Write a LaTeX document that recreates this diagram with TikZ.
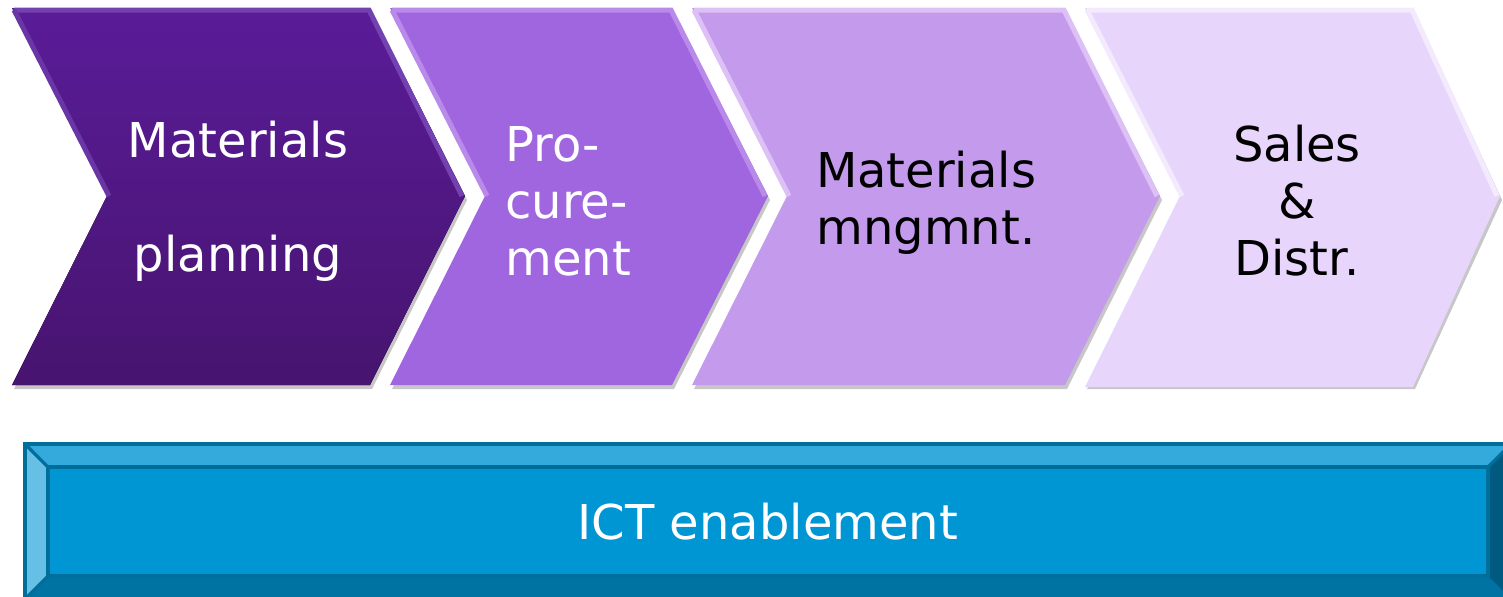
\documentclass[tikz,border=0pt]{standalone}
\usepackage{fontspec}
\setmainfont{DejaVu Sans}
\definecolor{cA}{HTML}{541A8E}
\definecolor{cAt}{HTML}{5A1C98}
\definecolor{cAb}{HTML}{47146F}
\definecolor{cAe}{HTML}{7442B0}
\definecolor{cB}{HTML}{A066DF}
\definecolor{cBe}{HTML}{B98AEA}
\definecolor{cC}{HTML}{C49AED}
\definecolor{cCe}{HTML}{DCC0F6}
\definecolor{cD}{HTML}{E7D5FB}
\definecolor{cDe}{HTML}{F3EAFD}
\definecolor{bMain}{HTML}{0095D3}
\definecolor{bTop}{HTML}{33A9DC}
\definecolor{bLeft}{HTML}{66BFE5}
\definecolor{bBot}{HTML}{0073A2}
\definecolor{bRight}{HTML}{005A80}
\definecolor{bLine}{HTML}{006E9A}
\tikzset{
  chevshadow/.style={fill=black, opacity=0.22},
  chevedge/.style={line width=2.5pt, line join=miter},
  lbl/.style={font=\fontsize{24}{28.5}\selectfont, inner sep=0pt, align=center},
  bevline/.style={draw=bLine, line width=1.6pt, line join=miter}
}
\begin{document}
\begin{tikzpicture}[x=0.5pt,y=-0.5pt]
\useasboundingbox (0,0) rectangle (1503,596);
\clip (0,0) rectangle (1503,596);
% shadows
\foreach \a/\b/\c/\d in {12/370/465/107, 390/672/768/485, 692/1065/1160/787, 1085/1413/1500/1180}{
  \fill[chevshadow] (\a+2,8+4) -- (\b+2,8+4) -- (\c+2,196+4) -- (\b+2,385+4) -- (\a+2,385+4) -- (\d+2,196+4) -- cycle;
}
% chevron 1
\fill[top color=cAt, bottom color=cAb] (12,8) -- (370,8) -- (465,196) -- (370,385) -- (12,385) -- (107,196) -- cycle;
\draw[chevedge, draw=cAe] (14,10) -- (369,10) -- (462,196);
\draw[chevedge, draw=cAe!70!cA] (14,10) -- (109,196);
% chevron 2
\fill[cB] (390,8) -- (672,8) -- (768,196) -- (672,385) -- (390,385) -- (485,196) -- cycle;
\draw[chevedge, draw=cBe] (392,10) -- (671,10) -- (765,196);
\draw[chevedge, draw=cBe] (392,10) -- (487,196);
% chevron 3
\fill[cC] (692,8) -- (1065,8) -- (1160,196) -- (1065,385) -- (692,385) -- (787,196) -- cycle;
\draw[chevedge, draw=cCe] (694,10) -- (1064,10) -- (1157,196);
\draw[chevedge, draw=cCe] (694,10) -- (789,196);
% chevron 4
\fill[cD] (1085,8) -- (1413,8) -- (1500,196) -- (1413,387) -- (1085,387) -- (1180,196) -- cycle;
\draw[chevedge, draw=cDe] (1087,10) -- (1412,10) -- (1497,196);
\draw[chevedge, draw=cDe] (1087,10) -- (1182,196);
% labels
\node[lbl, text=white] (mp) at (238,201) {Materials\\[28.5pt]planning};
\node[lbl, text=white, align=left, anchor=west] (pc) at (505,201) {Pro-\\cure-\\ment};
\node[lbl, text=black] (mm) at (926,203) {Materials\\mngmnt.};
\node[lbl, text=black] (sd) at (1297,201) {Sales\\\&\\Distr.};
% ICT bar
\fill[bMain] (25,444) rectangle (1511,599);
\fill[bTop] (25,444) -- (1511,444) -- (1488,467) -- (48,467) -- cycle;
\fill[bLeft] (25,444) -- (48,467) -- (48,576) -- (25,599) -- cycle;
\fill[bBot] (25,599) -- (48,576) -- (1488,576) -- (1511,599) -- cycle;
\fill[bRight] (1511,444) -- (1488,467) -- (1488,576) -- (1511,599) -- cycle;
\draw[bevline] (25,444) rectangle (1511,599);
\draw[bevline] (48,467) rectangle (1488,576);
\draw[bevline] (25,444) -- (48,467);
\draw[bevline] (25,599) -- (48,576);
\draw[bevline] (1511,444) -- (1488,467);
\node[lbl, text=white] (ict) at (768,522) {ICT enablement};
\end{tikzpicture}
\end{document}
